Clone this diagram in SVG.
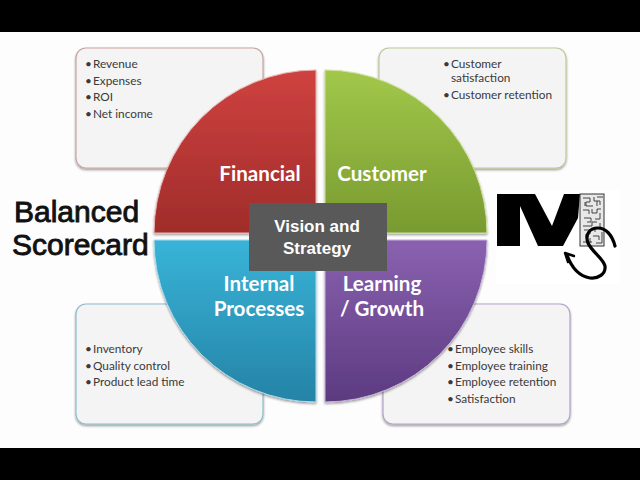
<svg xmlns="http://www.w3.org/2000/svg" width="640" height="480" viewBox="0 0 640 480">
<style>
.card{fill:#f4f4f5;stroke-width:1.2}
.li{font:11.8px Lato,"Open Sans",sans-serif;fill:#3a3a3a}
.q{font:bold 20.6px Lato,"Open Sans",sans-serif;fill:#fff;text-anchor:middle}
.t{font:30px "Liberation Sans",Arial,sans-serif;fill:#111;stroke:#111;stroke-width:.9}
.c{font:bold 17px "Liberation Sans",Arial,sans-serif;fill:#fff;text-anchor:middle}
.maze{fill:none;stroke:#444;stroke-width:1}
</style>
<defs>
<linearGradient id="r" x1="0" y1="0" x2="0" y2="1"><stop offset="0" stop-color="#cf4240"/><stop offset="1" stop-color="#a02c2a"/></linearGradient>
<linearGradient id="g" x1="0" y1="0" x2="0" y2="1"><stop offset="0" stop-color="#a2c84a"/><stop offset="1" stop-color="#789a30"/></linearGradient>
<linearGradient id="b" x1="0" y1="0" x2="0" y2="1"><stop offset="0" stop-color="#38b4d8"/><stop offset="1" stop-color="#2583a6"/></linearGradient>
<linearGradient id="p" x1="0" y1="0" x2="0" y2="1"><stop offset="0" stop-color="#8a62b0"/><stop offset="1" stop-color="#5c3a80"/></linearGradient>
<filter id="s" x="-5%" y="-5%" width="110%" height="110%"><feDropShadow dx="0" dy="1.5" stdDeviation="1" flood-color="#000" flood-opacity=".4"/></filter>
</defs>
<rect width="640" height="480" fill="#fdfdfd"/>
<rect width="640" height="32" fill="#000"/>
<rect y="448" width="640" height="32" fill="#000"/>

<g id="card-financial"><rect class="card" x="76" y="48" width="187" height="120" rx="10" stroke="#c9a3a1" filter="url(#s)"/>
<text class="li" y="68"><tspan x="85">•</tspan><tspan x="93">Revenue</tspan></text>
<text class="li" y="85"><tspan x="85">•</tspan><tspan x="93">Expenses</tspan></text>
<text class="li" y="101"><tspan x="85">•</tspan><tspan x="93">ROI</tspan></text>
<text class="li" y="118"><tspan x="85">•</tspan><tspan x="93">Net income</tspan></text></g>

<g id="card-customer"><rect class="card" x="379" y="48" width="187" height="120" rx="10" stroke="#bccb96" filter="url(#s)"/>
<text class="li" y="68"><tspan x="443">•</tspan><tspan x="451">Customer</tspan></text>
<text class="li" x="451" y="82">satisfaction</text>
<text class="li" y="99"><tspan x="443">•</tspan><tspan x="451">Customer retention</tspan></text></g>

<g id="card-internal"><rect class="card" x="76" y="304" width="187" height="120" rx="10" stroke="#8dbccb" filter="url(#s)"/>
<text class="li" y="353"><tspan x="85">•</tspan><tspan x="93">Inventory</tspan></text>
<text class="li" y="370"><tspan x="85">•</tspan><tspan x="93">Quality control</tspan></text>
<text class="li" y="386"><tspan x="85">•</tspan><tspan x="93">Product lead time</tspan></text></g>

<g id="card-learning"><rect class="card" x="383" y="304" width="187" height="120" rx="10" stroke="#b3a1c8" filter="url(#s)"/>
<text class="li" y="353"><tspan x="447">•</tspan><tspan x="455">Employee skills</tspan></text>
<text class="li" y="370"><tspan x="447">•</tspan><tspan x="455">Employee training</tspan></text>
<text class="li" y="386"><tspan x="447">•</tspan><tspan x="455">Employee retention</tspan></text>
<text class="li" y="403"><tspan x="447">•</tspan><tspan x="455">Satisfaction</tspan></text></g>

<g id="financial"><path d="M316 233V70A162 163 0 0 0 154 233Z" fill="url(#r)" stroke="#e8b5b2" filter="url(#s)"/>
<text class="q" x="260" y="181">Financial</text></g>
<g id="customer"><path d="M325 233V70A162 163 0 0 1 487 233Z" fill="url(#g)" stroke="#cfe0a0" filter="url(#s)"/>
<text class="q" x="382" y="181">Customer</text></g>
<g id="internal"><path d="M316 240V402A162 162 0 0 1 154 240Z" fill="url(#b)" stroke="#a8dcec" filter="url(#s)"/>
<text class="q" x="259" y="291">Internal</text><text class="q" x="259" y="316">Processes</text></g>
<g id="learning"><path d="M325 240V402A162 162 0 0 0 487 240Z" fill="url(#p)" stroke="#c6b4da" filter="url(#s)"/>
<text class="q" x="382" y="291">Learning</text><text class="q" x="382" y="316">/ Growth</text></g>

<g id="vision"><rect x="249" y="203" width="138" height="68" fill="#595959"/>
<text class="c" x="317" y="232">Vision and</text><text class="c" x="317" y="254">Strategy</text></g>

<g id="title"><text class="t" x="14" y="222">Balanced</text><text class="t" x="12" y="255">Scorecard</text></g>

<g id="logo">
<rect x="496" y="190" width="124" height="94" fill="#fff"/>
<path d="M497 194H535L552 226L564 194H580L578 218L563 246H538L520 206V246H497Z" fill="#000"/>
<rect x="580" y="194" width="24" height="52" fill="#e8e8e8" stroke="#333"/>
<path class="maze" d="M583 198H590V202H586V206H593M594 197V201H600V205M597 197H603M583 210H589V214M592 209V213H597V209H601M600 213V219H595M584 218H591V222H587M583 226H592V222H597M600 223V228H595V232M584 230H590V234H586V238M593 236H599V240M602 232V243H596M583 242H592M590 238V243M585 202V206M597 201V206"/>
<path d="M615 246C612 234 605 228 598 228C589 228 585 235 588 243C592 252 603 258 605 266C606 274 598 279 590 278C578 276 571 266 567 255" fill="none" stroke="#000" stroke-width="3.2" stroke-linecap="round"/>
<path d="M574 256L565 253L568 262" fill="none" stroke="#000" stroke-width="2.4" stroke-linecap="round" stroke-linejoin="round"/>
</g>
</svg>
